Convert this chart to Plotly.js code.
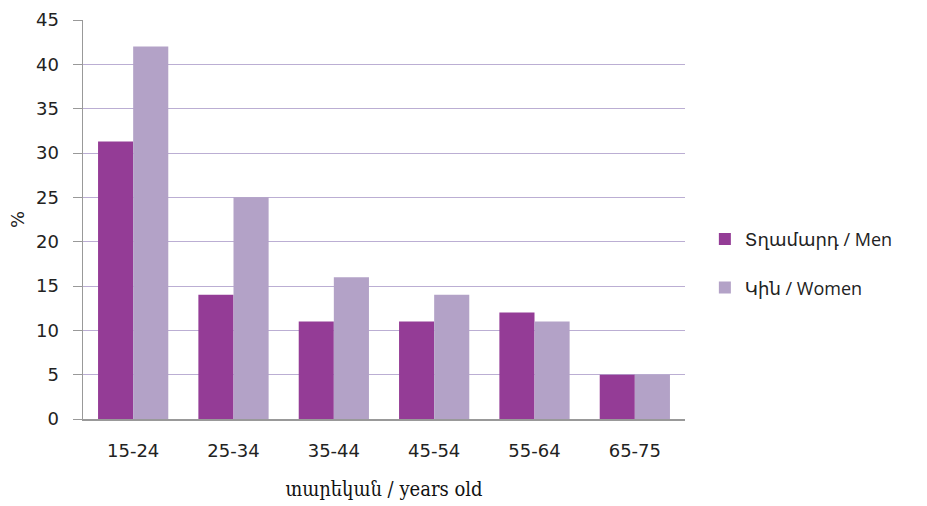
<!DOCTYPE html>
<html><head><meta charset="utf-8">
<script src="https://cdn.plot.ly/plotly-3.0.1.min.js"></script>
<style>html,body{margin:0;padding:0;background:#fff}#c{width:927px;height:506px}</style>
</head><body><div id="c"></div>
<script>
const categories = ["15-24","25-34","35-44","45-54","55-64","65-75"];
const men = [31.3, 14, 11, 11, 12, 5];
const women = [42, 25, 16, 14, 11, 5];
const menName = "Տղամարդ / Men";
const womenName = "Կին / Women";
const xTitle = "տարեկան / years old";
const yTitle = "%";

const data = [
  {type:"bar", x:categories, y:men, name:menName, legendgroup:"m",
   marker:{color:"#943C96"}},
  {type:"bar", x:categories, y:women, name:womenName, legendgroup:"w",
   marker:{color:"#B3A2C7"}}
];
const layout = {
  width:927, height:506,
  margin:{l:83, r:242, t:20, b:87},
  paper_bgcolor:"#fff", plot_bgcolor:"#fff",
  barmode:"group", bargap:0.3, bargroupgap:0,
  font:{family:"DejaVu Sans, sans-serif", color:"#222"},
  xaxis:{
    showline:true, linecolor:"#999", linewidth:1.5,
    ticks:"", tickfont:{size:18, color:"#222"}, ticklabelstandoff:15,
    title:{text:xTitle, font:{family:"DejaVu Serif Condensed, serif", size:20, color:"#111"}, standoff:22}
  },
  yaxis:{
    range:[0,45], dtick:5, showline:true, linecolor:"#999", linewidth:1.5,
    ticks:"outside", ticklen:9, tickcolor:"#999", ticklabelstandoff:10,
    gridcolor:"#BBAED3", gridwidth:1, zeroline:false,
    tickfont:{size:18, color:"#222"},
    title:{text:yTitle, font:{size:18, color:"#222"}, standoff:6}
  },
  showlegend:true,
  legend:{x:1.033, y:0.39, xanchor:"left", yanchor:"middle",
    font:{size:18, color:"#222", family:"Open Sans, DejaVu Sans, sans-serif"},
    traceorder:"grouped", tracegroupgap:22, itemwidth:30}
};
Plotly.newPlot("c", data, layout, {displayModeBar:false, staticPlot:true});
</script></body></html>
